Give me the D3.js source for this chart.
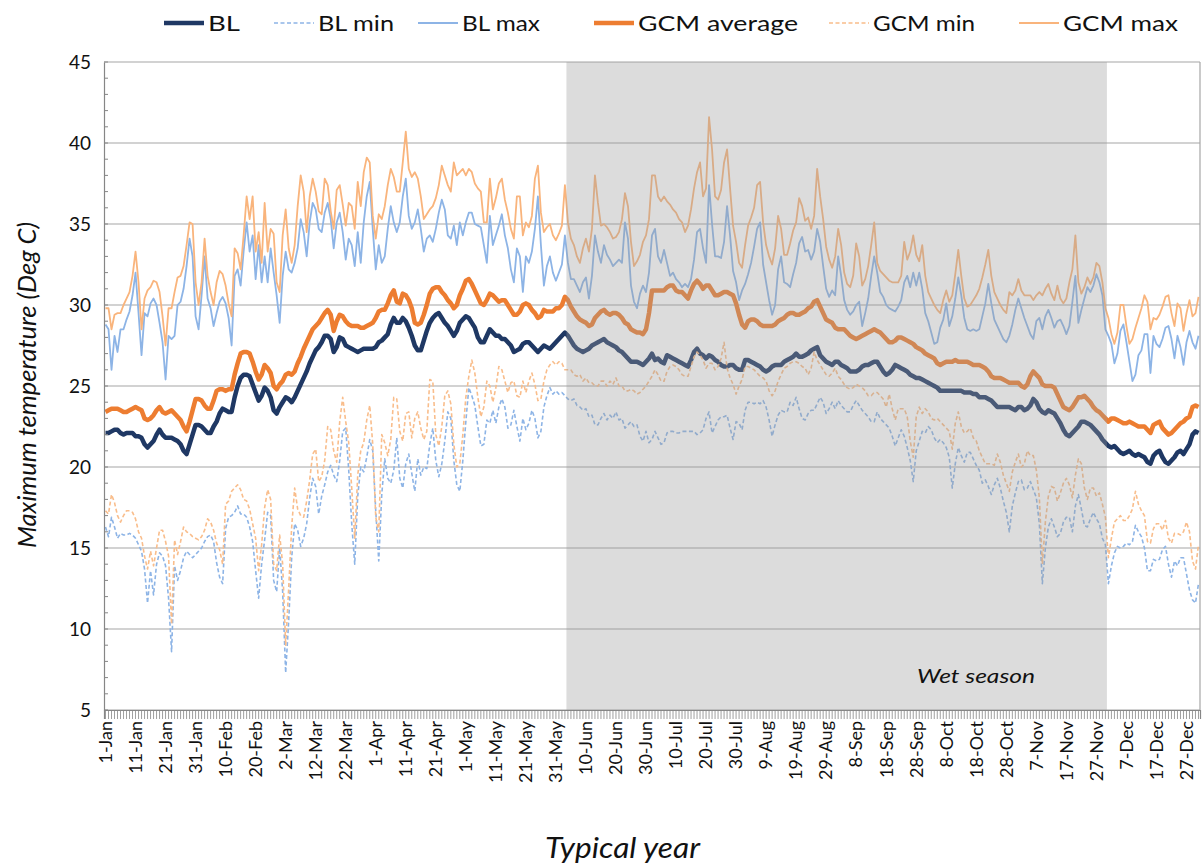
<!DOCTYPE html>
<html>
<head>
<meta charset="utf-8">
<script src="https://cdn.jsdelivr.net/npm/d3@7"></script>
<style>
  body { margin: 0; background: #fff; }
  svg { display: block; font-family: Lato, "Open Sans", sans-serif; }
</style>
</head>
<body>
<div id="container"></div>
<script>
// ---- data: one value per day of a typical year (1-Jan .. 31-Dec) ----
const blAvg = [
  22.1,22.1,22.2,22.3,22.3,22.1,22.0,22.1,22.1,22.1, 21.9,21.9,21.8,21.4,21.2,21.4,21.6,22.0,22.3,22.0,
  21.8,21.8,21.8,21.7,21.6,21.4,21.0,20.8,21.4,22.0, 22.6,22.6,22.5,22.3,22.1,22.1,22.5,22.8,23.3,23.6,
  23.5,23.4,23.4,24.3,25.0,25.5,25.7,25.7,25.6,25.1, 24.6,24.1,24.4,24.9,24.7,24.3,23.5,23.3,23.7,24.0,
  24.3,
  24.2,24.0,24.3,24.7,25.1,25.5,25.9,26.4,26.8,27.2, 27.4,27.7,28.1,28.1,27.9,27.1,27.4,28.0,27.9,27.5,
  27.4,27.3,27.2,27.1,27.2,27.3,27.3,27.3,27.3,27.4, 27.7,27.8,28.0,28.2,28.8,29.2,28.9,28.9,29.2,29.0,
  28.6,28.1,27.5,27.2,27.2,27.8,28.4,28.9,29.2,29.4, 29.5,29.2,28.9,28.7,28.4,28.1,28.4,28.9,29.1,29.3,
  29.2,
  28.9,28.6,28.0,27.7,27.7,28.1,28.5,28.3,28.1,28.1, 27.9,27.9,27.7,27.5,27.1,27.2,27.3,27.6,27.7,27.7,
  27.5,27.3,27.1,27.3,27.5,27.4,27.3,27.5,27.7,27.9, 28.1,28.3,28.1,27.8,27.5,27.3,27.2,27.1,27.2,27.3,
  27.5,27.6,27.7,27.8,27.9,27.7,27.6,27.5,27.4,27.2, 27.1,26.9,26.7,26.5,26.5,26.5,26.4,26.3,26.5,26.7,
  27.0,
  26.6,26.7,26.5,26.4,26.9,26.8,26.7,26.6,26.5,26.4, 26.3,26.2,26.6,27.1,27.3,27.0,26.9,26.7,26.9,26.8,
  26.6,26.5,26.3,26.2,26.2,26.3,26.3,26.1,26.0,26.0, 26.6,26.6,26.5,26.4,26.3,26.2,26.0,25.9,26.0,26.2,
  26.3,26.3,26.3,26.5,26.6,26.7,26.8,27.0,26.8,26.8, 26.9,27.0,27.2,27.3,27.4,26.9,26.7,26.5,26.4,26.3,
  26.5,
  26.5,26.3,26.2,26.1,25.9,25.9,25.9,26.0,26.2,26.3, 26.3,26.4,26.5,26.5,26.2,25.9,25.7,25.8,26.0,26.3,
  26.2,26.1,26.0,25.9,25.7,25.6,25.5,25.5,25.4,25.3, 25.2,25.1,25.0,24.9,24.7,24.7,24.7,24.7,24.7,24.7,
  24.7,24.7,24.6,24.6,24.6,24.5,24.5,24.3,24.3,24.3, 24.2,24.1,23.9,23.7,23.7,23.7,23.7,23.7,23.6,23.5,
  23.7,
  23.7,23.5,23.6,23.8,24.2,24.0,23.6,23.4,23.3,23.5, 23.4,23.3,23.0,22.7,22.3,22.0,21.9,22.1,22.3,22.5,
  22.8,22.8,22.7,22.6,22.4,22.2,22.0,21.7,21.5,21.3, 21.2,21.3,21.1,20.9,20.8,20.9,21.0,20.8,20.7,20.8,
  20.7,20.6,20.3,20.2,20.7,20.9,21.0,20.6,20.3,20.2, 20.4,20.6,20.9,21.0,20.8,21.1,21.4,22.0,22.2,22.1
];

const blMin = [
  16.3,15.7,16.9,16.3,15.6,15.9,15.8,15.8,15.9,15.8, 15.6,15.2,14.8,13.7,11.6,13.6,12.1,14.0,14.7,14.5,
  13.9,11.9,8.6,13.9,13.0,13.6,14.4,14.8,14.6,14.4, 14.6,14.8,15.0,15.4,15.7,15.8,15.4,14.1,13.2,12.8,
  16.2,16.9,17.0,17.2,17.6,17.1,17.1,16.9,16.3,15.4, 13.6,11.9,14.0,15.5,17.2,17.0,13.0,12.3,15.0,12.3,
  7.3,
  10.5,14.4,16.5,16.1,15.1,15.6,16.5,18.1,19.3,18.8, 17.1,18.2,18.9,19.7,20.1,19.5,19.1,20.4,22.2,22.4,
  19.8,16.5,14.0,18.2,20.0,19.7,20.6,21.7,21.0,17.3, 14.2,18.3,20.5,19.3,19.0,19.8,21.8,19.3,18.7,20.2,
  20.8,19.6,18.5,20.5,19.5,20.0,19.9,21.4,22.4,20.4, 19.4,20.2,21.6,23.4,23.0,20.4,18.9,18.5,20.4,22.8,
  24.9,
  24.4,23.8,22.5,21.3,21.4,22.9,22.7,23.5,22.7,23.7, 24.2,23.7,22.4,22.6,23.5,22.5,21.6,23.0,22.3,22.7,
  23.5,23.0,21.8,22.2,23.7,24.4,24.9,24.5,24.7,24.5, 24.6,24.4,24.2,24.1,24.2,23.8,23.7,23.5,23.6,23.1,
  23.2,22.6,22.6,23.0,23.3,22.9,23.2,23.0,23.4,22.9, 23.0,22.4,22.6,22.8,22.5,22.6,21.9,21.6,22.2,21.5,
  21.7,
  22.2,21.8,21.4,21.5,22.1,22.2,22.2,22.1,22.1,22.2, 22.2,22.2,22.2,22.2,22.0,22.1,22.3,23.0,23.4,22.1,
  22.5,22.9,23.1,23.1,23.2,22.4,21.7,22.8,22.7,22.3, 23.5,24.0,24.0,23.9,24.0,23.9,24.1,23.7,22.9,21.9,
  22.6,23.2,23.5,23.4,23.4,24.0,23.8,24.3,23.6,23.0, 22.9,23.3,23.5,23.5,23.9,24.3,24.0,23.3,23.6,24.0,
  23.6,
  24.1,23.8,23.6,23.4,23.4,23.8,24.1,23.8,23.5,23.3, 23.1,22.8,22.8,23.4,23.0,22.8,22.6,22.4,21.9,21.3,
  21.8,22.3,21.9,21.2,20.4,19.1,21.0,21.6,22.2,22.1, 22.5,22.3,21.8,21.5,21.7,21.5,21.2,20.6,18.7,20.2,
  21.2,20.7,20.3,20.9,20.9,20.5,20.1,19.8,19.0,19.2, 18.8,18.3,18.9,19.3,18.7,17.9,17.2,16.0,17.6,18.4,
  19.1,
  19.2,18.6,18.7,19.1,18.6,18.1,16.5,12.8,15.0,16.3, 16.8,16.3,15.7,15.9,16.6,16.9,16.9,16.0,17.6,18.3,
  17.4,16.4,16.3,16.8,17.2,16.8,16.5,15.6,15.2,12.8, 13.9,14.7,15.1,15.0,15.1,15.3,15.2,15.4,16.4,16.0,
  15.7,15.0,13.6,13.6,14.3,14.2,14.3,14.9,15.1,14.0, 13.2,14.2,13.9,14.4,14.4,13.4,12.4,11.8,11.6,12.8
];

const blMax = [
  28.8,28.5,26.0,28.1,27.1,28.5,28.5,29.1,29.6,30.6, 32.0,29.5,26.9,29.5,29.3,30.1,30.4,30.0,28.9,27.7,
  25.4,28.1,27.9,28.1,30.0,30.2,31.0,32.4,34.1,33.0, 29.3,28.5,30.6,33.0,30.4,29.8,28.7,29.5,30.2,30.5,
  30.1,29.2,27.5,31.8,32.2,31.2,33.3,35.1,33.3,34.3, 31.6,33.7,31.4,33.0,31.4,33.5,32.0,30.6,28.9,31.8,
  33.3,
  32.2,32.0,32.6,33.5,35.3,34.5,33.0,35.1,36.3,35.9, 34.7,34.5,35.7,36.3,35.3,33.5,35.1,35.7,34.5,32.8,
  34.1,33.7,32.4,34.5,32.6,35.1,36.7,37.6,34.7,32.2, 33.7,32.6,33.0,34.7,36.1,35.1,34.5,35.1,36.7,37.8,
  35.5,34.7,35.1,35.9,34.7,33.3,34.1,34.3,33.9,34.7, 35.7,36.5,35.9,34.3,34.1,34.9,33.7,35.1,34.3,35.1,
  35.7,
  35.7,35.0,34.9,34.8,33.7,32.6,35.5,33.7,34.3,34.9, 35.6,34.3,33.5,32.2,31.4,33.5,33.0,30.8,33.0,32.6,
  33.3,34.7,36.7,33.7,31.2,32.4,33.0,32.0,31.5,32.0, 32.5,34.3,32.6,31.6,31.6,31.2,30.8,31.4,31.7,30.4,
  31.8,34.3,33.3,32.6,33.7,33.1,32.8,32.4,32.6,32.8, 32.6,35.1,34.1,31.2,30.2,29.8,30.7,31.2,30.8,32.0,
  34.3,
  34.7,33.0,32.6,33.4,32.6,31.8,32.0,31.6,31.4,31.1, 31.3,31.1,31.6,32.8,34.5,34.7,33.5,32.6,37.4,35.0,
  33.0,33.0,32.9,33.9,36.1,34.3,32.1,31.4,30.3,30.9, 31.3,31.9,32.6,33.6,34.7,35.1,32.5,31.4,30.3,29.4,
  30.0,32.2,33.0,31.4,31.3,31.1,31.9,32.6,33.8,34.2, 33.3,33.4,32.8,33.3,34.7,33.9,32.4,31.0,30.5,30.9,
  30.6,
  33.0,31.8,30.3,29.7,29.4,29.6,30.0,30.2,28.7,29.5, 30.4,31.8,33.0,32.0,30.8,30.5,30.0,29.8,29.7,29.6,
  29.9,30.3,31.4,31.8,31.1,32.0,31.2,32.0,31.0,29.5, 29.0,28.3,27.6,27.7,28.6,29.1,30.1,28.7,29.3,30.4,
  31.7,30.6,29.2,28.5,28.4,28.5,28.4,28.5,29.3,30.1, 31.3,30.1,29.1,28.7,28.3,27.9,27.7,28.1,28.8,29.7,
  30.4,
  29.8,29.2,28.7,28.2,27.9,29.0,29.2,28.5,29.3,29.7, 29.2,28.6,29.0,29.1,28.7,28.2,28.7,30.2,31.8,28.9,
  29.7,30.4,31.1,30.8,31.2,31.9,31.4,30.6,28.5,28.1, 27.6,26.4,27.0,28.4,28.8,27.7,26.5,25.3,25.7,26.9,
  27.2,28.2,28.2,25.8,28.1,27.6,27.4,27.9,28.6,28.7, 27.9,26.7,28.1,27.4,26.3,27.7,28.4,27.7,27.3,28.1
];

const gcmAvg = [
  23.4,23.5,23.6,23.6,23.6,23.5,23.4,23.4,23.5,23.6, 23.7,23.6,23.5,23.0,22.9,23.0,23.2,23.5,23.7,23.4,
  23.3,23.4,23.5,23.3,23.1,22.9,22.5,22.2,22.8,23.5, 24.2,24.2,24.1,23.8,23.6,23.6,24.1,24.7,24.8,24.8,
  24.7,24.8,24.8,25.7,26.4,27.0,27.1,27.1,27.0,26.5, 25.9,25.4,25.7,26.3,26.1,25.8,25.0,24.8,25.1,25.3,
  25.7,
  25.8,25.7,25.9,26.4,26.8,27.3,27.7,28.1,28.5,28.7, 28.9,29.2,29.5,29.7,29.4,28.4,29.0,29.4,29.3,29.0,
  28.8,28.7,28.7,28.7,28.6,28.6,28.7,28.8,28.9,29.2, 29.6,29.7,29.7,30.1,30.6,30.9,30.2,30.1,30.7,30.6,
  30.3,29.8,28.9,28.8,28.9,29.4,30.0,30.7,31.0,31.1, 31.1,30.8,30.6,30.3,30.1,29.8,30.0,30.6,31.0,31.5,
  31.6,
  31.3,30.9,30.5,30.1,30.0,30.3,30.7,30.6,30.4,30.2, 30.3,30.3,30.0,29.7,29.4,29.4,29.6,30.0,30.1,30.0,
  29.7,29.5,29.2,29.3,29.7,29.6,29.6,29.6,29.8,29.8, 30.0,30.5,30.3,29.9,29.6,29.3,29.1,29.0,28.9,28.7,
  28.8,29.2,29.4,29.6,29.7,29.5,29.4,29.5,29.5,29.4, 29.2,28.9,28.8,28.5,28.4,28.3,28.3,28.2,28.5,29.5,
  30.9,
  30.9,30.9,30.9,30.9,31.1,31.2,31.2,30.9,30.8,30.8, 30.6,30.4,30.9,31.3,31.5,31.3,31.0,31.2,31.2,30.9,
  30.6,30.6,30.7,30.8,30.8,30.7,30.6,30.1,29.4,28.8, 28.6,29.0,29.1,29.1,29.0,28.8,28.7,28.7,28.7,28.7,
  28.8,29.0,29.1,29.2,29.4,29.5,29.5,29.4,29.4,29.5, 29.6,29.8,29.9,30.2,30.3,29.9,29.5,29.1,29.0,28.9,
  28.6,
  28.5,28.5,28.5,28.3,28.1,28.0,27.9,28.0,28.1,28.2, 28.3,28.4,28.5,28.4,28.3,28.1,27.9,27.7,27.7,27.8,
  28.0,28.0,27.9,27.8,27.7,27.6,27.4,27.3,27.2,27.0, 26.9,26.8,26.7,26.4,26.3,26.4,26.5,26.5,26.5,26.6,
  26.5,26.5,26.5,26.5,26.4,26.3,26.3,26.3,26.2,26.1, 25.9,25.6,25.5,25.5,25.5,25.4,25.3,25.2,25.2,25.2,
  25.2,
  25.0,24.9,25.1,25.6,25.9,25.7,25.5,25.1,25.0,25.0, 25.0,24.9,24.5,24.1,23.7,23.6,23.5,23.7,24.0,24.3,
  24.3,24.4,24.2,24.0,23.7,23.5,23.4,23.2,23.0,22.8, 23.0,23.0,22.9,22.8,22.7,22.7,22.8,22.7,22.6,22.5,
  22.5,22.5,22.3,22.1,22.6,22.7,22.8,22.4,22.2,22.0, 22.1,22.3,22.5,22.7,22.8,23.0,23.1,23.7,23.8,23.7
];

const gcmMin = [
  17.3,17.1,18.3,17.8,17.0,16.6,17.0,17.3,17.3,17.2, 16.8,16.0,15.6,14.5,13.7,14.8,13.9,15.0,16.1,16.1,
  15.4,14.5,10.3,15.5,14.6,15.4,16.3,16.0,15.9,15.7, 15.6,15.5,15.7,16.1,16.8,16.6,16.1,15.3,14.9,14.0,
  17.7,17.9,18.5,18.7,18.9,18.6,18.0,17.9,17.4,16.5, 15.6,13.6,15.2,17.5,18.6,18.0,14.0,13.6,15.8,14.0,
  9.0,
  12.5,16.3,18.7,17.4,17.0,16.9,17.9,19.2,20.8,21.1, 19.1,19.4,20.4,22.5,22.3,21.0,20.3,22.8,24.3,22.8,
  21.5,18.7,15.6,19.5,21.0,21.5,22.9,23.8,21.4,16.9, 16.0,22.0,21.5,20.7,21.7,24.3,24.2,22.2,21.6,23.3,
  23.4,21.8,23.0,23.4,22.4,21.7,22.2,25.4,25.3,22.0, 21.3,22.5,24.4,24.7,23.9,21.4,20.0,20.2,22.0,24.3,
  25.6,
  26.6,25.8,24.3,23.1,23.7,25.3,25.0,24.0,24.9,26.2, 26.0,25.3,24.6,25.2,25.3,24.4,24.3,25.3,24.6,25.3,
  25.8,25.1,24.1,24.2,25.3,26.0,26.3,26.5,26.3,26.5, 26.4,26.0,26.0,26.0,25.7,25.6,25.7,25.3,25.5,25.2,
  25.2,25.0,25.0,25.3,25.3,25.0,25.3,25.1,25.5,25.0, 25.0,24.7,24.7,24.8,24.7,24.5,24.6,24.8,25.0,25.3,
  25.6,
  26.0,25.7,25.3,25.3,25.9,26.2,26.3,26.2,26.0,25.7, 25.6,25.6,26.2,26.8,27.1,26.9,26.6,26.1,26.4,26.4,
  26.0,26.2,26.7,27.7,26.1,25.5,25.1,24.5,25.0,25.4, 26.2,26.2,26.1,26.0,25.8,25.6,25.5,25.3,24.7,24.4,
  24.7,25.3,25.7,26.1,26.2,26.4,26.5,26.5,26.4,26.2, 26.1,25.7,26.1,27.1,26.6,26.3,26.0,25.7,25.6,25.8,
  26.1,
  25.6,25.4,25.1,24.9,24.8,24.9,25.1,25.0,24.9,24.7, 24.4,24.4,24.6,24.6,24.4,24.2,23.7,24.5,23.6,22.9,
  23.6,23.6,23.6,23.1,21.6,20.6,23.1,23.7,23.3,23.6, 23.4,23.0,22.9,23.0,22.8,22.6,22.4,22.2,21.1,22.7,
  23.4,22.5,22.1,22.2,22.4,21.8,21.6,21.0,20.6,20.2, 20.2,20.2,20.1,20.8,20.3,19.5,19.0,18.5,19.7,20.3,
  20.8,
  20.0,20.2,21.0,20.7,20.7,19.8,18.1,14.0,16.6,18.2, 18.8,18.7,17.9,18.4,19.0,19.3,18.9,18.1,19.5,20.5,
  20.2,18.7,18.0,18.7,18.7,18.2,18.4,17.7,16.9,14.4, 15.6,16.6,16.8,17.0,16.7,16.7,17.0,17.4,18.5,17.7,
  17.3,17.0,15.4,15.3,16.2,16.5,16.5,16.1,16.7,15.6, 15.3,15.9,15.9,15.8,16.0,16.6,16.0,14.2,13.7,15.2
];

const gcmMax = [
  29.8,29.8,28.5,29.4,29.5,29.5,30.0,30.4,30.8,31.8, 33.3,31.4,28.5,30.4,30.9,31.1,31.5,31.4,30.8,29.3,
  27.5,29.8,29.8,30.8,31.7,31.8,32.4,33.7,35.1,35.0, 31.4,30.0,31.4,34.1,31.8,30.8,30.0,31.4,32.1,31.9,
  31.2,30.1,29.3,33.5,33.2,32.2,34.3,36.7,35.3,36.7, 33.3,34.5,32.6,36.3,33.3,34.7,34.4,31.4,30.8,34.3,
  35.9,
  33.5,32.6,33.7,36.1,38.0,37.0,34.5,36.7,37.8,37.0, 35.8,35.6,37.8,37.4,35.8,34.7,37.1,37.4,36.2,34.9,
  36.3,36.1,34.7,37.6,36.1,38.2,39.1,38.8,35.5,34.1, 35.6,35.3,36.1,37.4,38.4,37.9,37.0,37.0,38.8,40.7,
  38.4,37.9,38.2,37.8,36.7,35.3,35.6,35.9,36.1,36.6, 37.4,38.6,38.0,37.4,37.0,38.8,38.0,38.2,38.4,38.0,
  38.4,
  38.2,37.5,37.2,37.0,35.1,35.1,37.8,35.9,36.6,37.5, 37.8,36.5,35.7,34.7,34.1,36.7,36.7,34.3,35.1,34.8,
  35.5,37.8,38.6,35.7,34.5,34.8,35.0,34.3,34.0,34.4, 34.9,37.4,35.1,34.1,33.7,33.0,32.6,33.5,34.1,33.3,
  34.7,38.0,36.3,34.9,35.0,34.8,34.5,34.1,34.2,34.5, 35.3,36.9,36.1,33.9,32.4,32.7,33.1,33.9,34.3,35.3,
  38.0,
  38.0,36.7,36.4,36.7,36.4,36.2,35.9,35.7,35.3,35.1, 34.5,34.9,35.9,37.2,38.2,38.8,36.7,37.2,41.6,39.6,
  36.7,36.5,37.1,38.8,39.6,37.2,34.9,33.9,32.6,32.3, 33.7,34.9,35.4,36.0,37.4,37.6,35.1,33.7,33.0,32.5,
  33.5,35.5,34.7,33.1,33.1,33.8,34.6,35.1,36.6,36.1, 35.2,35.4,34.7,35.5,38.4,36.7,35.3,33.6,32.8,32.3,
  33.0,
  34.7,33.7,32.0,31.3,31.1,31.8,33.8,33.0,31.2,31.6, 32.4,33.7,35.1,32.6,32.1,31.9,31.7,31.5,31.4,31.4,
  31.4,31.8,33.9,32.8,33.3,34.3,33.1,32.7,33.7,31.8, 30.8,30.4,30.0,29.7,29.5,30.3,30.9,30.2,30.6,31.9,
  33.4,31.8,30.4,29.9,30.0,30.3,30.6,31.0,31.7,32.5, 33.4,31.8,30.8,30.4,30.0,29.7,29.5,30.8,30.6,30.9,
  31.6,
  30.9,30.6,30.6,30.6,30.3,30.6,30.8,30.6,31.0,31.3, 30.7,30.3,31.2,30.4,30.1,30.4,31.4,32.2,34.3,31.4,
  30.7,31.1,31.7,31.3,31.7,32.6,32.4,31.4,29.8,29.2, 28.2,27.6,28.3,30.0,30.0,28.7,27.6,27.9,28.6,29.2,
  29.8,30.6,30.2,28.5,29.2,29.1,29.4,29.9,30.5,30.6, 29.5,28.7,30.1,29.8,28.4,29.5,30.3,29.3,29.5,30.5
];

// axis text: every tenth day is labelled
const tickLabels = ["1-Jan","11-Jan","21-Jan","31-Jan","10-Feb","20-Feb","2-Mar","12-Mar","22-Mar",
  "1-Apr","11-Apr","21-Apr","1-May","11-May","21-May","31-May","10-Jun","20-Jun","30-Jun","10-Jul",
  "20-Jul","30-Jul","9-Aug","19-Aug","29-Aug","8-Sep","18-Sep","28-Sep","8-Oct","18-Oct","28-Oct",
  "7-Nov","17-Nov","27-Nov","7-Dec","17-Dec","27-Dec"];
const labelStep = 10;
const yTicks = [5, 10, 15, 20, 25, 30, 35, 40, 45];

// wet season, as day indices (4-Jun .. 30-Nov)
const wetStart = 154;
const wetEnd = 334;

const days = d3.range(blAvg.length);

const series = [
  { name: "BL",          values: blAvg,  color: "#1f3864", width: 4.5, dash: null },
  { name: "BL min",      values: blMin,  color: "#8db4e6", width: 1.6, dash: "4,2.5" },
  { name: "BL max",      values: blMax,  color: "#8db4e6", width: 1.8, dash: null },
  { name: "GCM average", values: gcmAvg, color: "#ed7d31", width: 4.5, dash: null },
  { name: "GCM min",     values: gcmMin, color: "#f9bd8b", width: 1.6, dash: "4,2.5" },
  { name: "GCM max",     values: gcmMax, color: "#f9b47c", width: 1.8, dash: null }
];

// ---- chart ----
const width = 1202, height = 863;
const plot = { left: 104, right: 1200, top: 62, bottom: 710 };
const ink = '#111';

const svg = d3.select('#container')
  .append('svg')
  .attr('width', width)
  .attr('height', height);

svg.append('rect').attr('width', width).attr('height', height).attr('fill', '#fff');

const x = d3.scaleBand()
  .domain(days)
  .range([plot.left, plot.right])
  .padding(0);
const xc = d => x(d) + x.bandwidth() / 2;

const y = d3.scaleLinear()
  .domain([5, 45])
  .range([plot.bottom, plot.top]);

// gridlines
svg.append('g')
  .selectAll('line')
  .data(yTicks)
  .enter()
  .append('line')
  .attr('x1', plot.left)
  .attr('x2', plot.right)
  .attr('y1', d => y(d))
  .attr('y2', d => y(d))
  .attr('stroke', '#a6a6a6')
  .attr('stroke-width', 1.2);

// right border of plot area
svg.append('line')
  .attr('x1', plot.right).attr('x2', plot.right)
  .attr('y1', plot.top).attr('y2', plot.bottom)
  .attr('stroke', '#a6a6a6').attr('stroke-width', 1.2);

// series lines
const line = d3.line()
  .x((d, i) => xc(i))
  .y(d => y(d));

series.forEach(s => {
  svg.append('path')
    .datum(s.values)
    .attr('fill', 'none')
    .attr('stroke', s.color)
    .attr('stroke-width', s.width)
    .attr('stroke-linejoin', 'round')
    .attr('stroke-dasharray', s.dash)
    .attr('d', line);
});

// wet season shading (drawn over the lines, semi transparent)
svg.append('rect')
  .attr('x', x(wetStart))
  .attr('y', plot.top)
  .attr('width', x(wetEnd) - x(wetStart))
  .attr('height', plot.bottom - plot.top)
  .attr('fill', '#9b9b9b')
  .attr('fill-opacity', 0.35);

svg.append('text')
  .attr('x', 917)
  .attr('y', 683)
  .attr('font-size', 20)
  .attr('font-style', 'italic')
  .attr('fill', ink)
  .attr('textLength', 118)
  .attr('lengthAdjust', 'spacingAndGlyphs')
  .text('Wet season');

// y axis
const yAxis = d3.axisLeft(y).tickValues(yTicks).tickSize(0).tickPadding(13);
const gy = svg.append('g')
  .attr('transform', `translate(${plot.left},0)`)
  .call(yAxis);
gy.select('.domain').attr('stroke', '#868686').attr('stroke-width', 1.2);
gy.selectAll('text').attr('font-size', 19).attr('fill', ink).attr('font-family', 'Lato, sans-serif');

// minor y ticks every degree
svg.append('g')
  .selectAll('line')
  .data(d3.range(5, 46))
  .enter()
  .append('line')
  .attr('x1', plot.left)
  .attr('x2', plot.left + 4)
  .attr('y1', d => y(d))
  .attr('y2', d => y(d))
  .attr('stroke', '#868686');

// x axis with a tick for every day
const xAxis = d3.axisBottom(x).tickValues(days).tickFormat('').tickSize(9);
const gx = svg.append('g')
  .attr('transform', `translate(0,${plot.bottom})`)
  .call(xAxis);
gx.select('.domain').attr('stroke', '#868686').attr('stroke-width', 1.2);
gx.selectAll('.tick line').attr('stroke', '#868686').attr('stroke-width', 0.8);

svg.append('g')
  .selectAll('text')
  .data(tickLabels)
  .enter()
  .append('text')
  .attr('transform', (d, i) => `translate(${xc(i * labelStep)},${plot.bottom + 11}) rotate(-90)`)
  .attr('text-anchor', 'end')
  .attr('dy', '0.35em')
  .attr('font-size', 18)
  .attr('fill', ink)
  .text(d => d);

// axis titles
svg.append('text')
  .attr('transform', `translate(36,548) rotate(-90)`)
  .attr('font-size', 26)
  .attr('font-style', 'italic')
  .attr('fill', ink)
  .attr('textLength', 326)
  .attr('lengthAdjust', 'spacingAndGlyphs')
  .text('Maximum temperature (Deg C)');

svg.append('text')
  .attr('x', 545)
  .attr('y', 858)
  .attr('font-size', 28)
  .attr('font-style', 'italic')
  .attr('fill', ink)
  .attr('textLength', 155)
  .attr('lengthAdjust', 'spacingAndGlyphs')
  .text('Typical year');

// legend: text start and text width of each entry
const legendTextX = [208, 318, 462, 638, 873, 1063];
const legendTextW = [32, 76, 78, 160, 102, 115];
const legend = svg.append('g');
series.forEach((s, i) => {
  const g = legend.append('g').attr('transform', `translate(${legendTextX[i]},23)`);
  g.append('line')
    .attr('x1', -44).attr('x2', -4)
    .attr('stroke', s.color)
    .attr('stroke-width', s.width)
    .attr('stroke-dasharray', s.dash);
  g.append('text')
    .attr('x', 0)
    .attr('dy', '0.36em')
    .attr('font-size', 22)
    .attr('fill', ink)
    .attr('textLength', legendTextW[i])
    .attr('lengthAdjust', 'spacingAndGlyphs')
    .text(s.name);
});

series.forEach(s => {
  if (s.values.length !== 365) throw new Error(s.name + ' has ' + s.values.length + ' values');
});
</script>
</body>
</html>
